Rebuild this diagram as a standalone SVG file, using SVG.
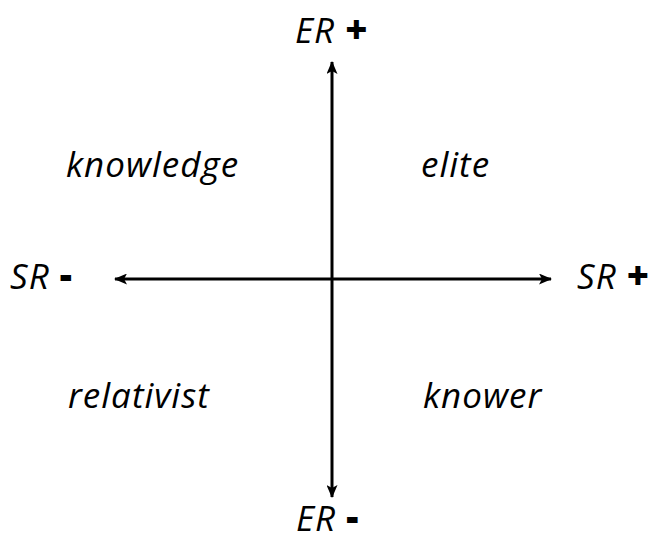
<svg xmlns="http://www.w3.org/2000/svg" width="651" height="545" viewBox="0 0 651 545">
<style>
.t{font-family:"Open Sans","Noto Sans",sans-serif;font-style:italic;font-size:35px;letter-spacing:1px;fill:#000}
.b{font-style:normal;font-weight:800;font-size:38px}
.ax{stroke:#000;stroke-width:3;fill:none}
</style>
<defs>
<marker id="ah" viewBox="0 0 13 11" refX="12" refY="5.5" markerWidth="13" markerHeight="11" markerUnits="userSpaceOnUse" orient="auto">
<path d="M0,0 L13,5.5 L0,11 L3,5.5 Z" fill="#000"/>
</marker>
</defs>
<g id="connectors">
<line class="ax" x1="332" y1="279" x2="332" y2="62" marker-end="url(#ah)"/>
<line class="ax" x1="332" y1="279" x2="332" y2="497" marker-end="url(#ah)"/>
<line class="ax" x1="332" y1="279" x2="115" y2="279" marker-end="url(#ah)"/>
<line class="ax" x1="332" y1="279" x2="551" y2="279" marker-end="url(#ah)"/>
</g>
<g id="er-plus"><text class="t" x="295" y="43">ER <tspan class="b">+</tspan></text></g>
<g id="er-minus"><text class="t" x="296" y="531">ER <tspan class="b">-</tspan></text></g>
<g id="sr-minus"><text class="t" x="10" y="289">SR <tspan class="b">-</tspan></text></g>
<g id="sr-plus"><text class="t" x="577" y="289">SR <tspan class="b">+</tspan></text></g>
<g id="knowledge"><text class="t" x="66" y="177">knowledge</text></g>
<g id="elite"><text class="t" x="421" y="177">elite</text></g>
<g id="relativist"><text class="t" x="68" y="408">relativist</text></g>
<g id="knower"><text class="t" x="423" y="408">knower</text></g>
</svg>
